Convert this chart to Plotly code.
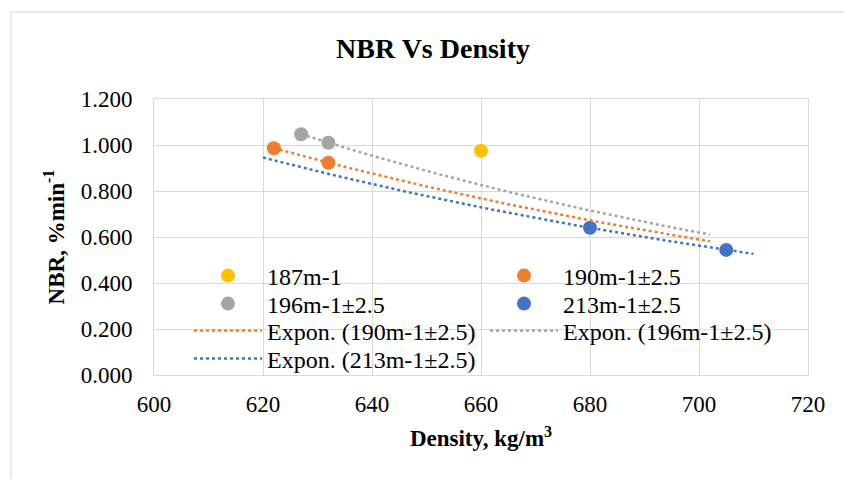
import numpy as np
import plotly.graph_objects as go

# ---- data ----
s187_x = [660]
s187_y = [0.975]
s190_x = [622, 632]
s190_y = [0.986, 0.923]
s196_x = [627, 632]
s196_y = [1.047, 1.010]
s213_x = [680, 705]
s213_y = [0.640, 0.544]

names = ["187m-1", "190m-1±2.5", "196m-1±2.5", "213m-1±2.5"]
colors = ["#FFC000", "#ED7D31", "#A5A5A5", "#4472C4"]
# trendline forecast (backward, forward) in x units, as in Excel trendline options
forecast = {"190m-1±2.5": (0, 70), "196m-1±2.5": (0, 70), "213m-1±2.5": (60, 5)}

x_ticks = [600, 620, 640, 660, 680, 700, 720]
y_ticks = [0.0, 0.2, 0.4, 0.6, 0.8, 1.0, 1.2]

FONT = "Liberation Serif, Times New Roman, serif"

# legend row assignment (two entries per row, like the Excel legend)
marker_legend = {"187m-1": "legend", "190m-1±2.5": "legend",
                 "196m-1±2.5": "legend2", "213m-1±2.5": "legend2"}
trend_legend = {"190m-1±2.5": "legend3", "196m-1±2.5": "legend3", "213m-1±2.5": "legend4"}

fig = go.Figure()
series = [(s187_x, s187_y), (s190_x, s190_y), (s196_x, s196_y), (s213_x, s213_y)]
for (xs, ys), nm, col in zip(series, names, colors):
    fig.add_trace(go.Scatter(x=xs, y=ys, mode="markers", name=nm, legend=marker_legend[nm],
                             marker=dict(color=col, size=14, line=dict(width=0))))

for (xs, ys), nm, col in zip(series, names, colors):
    if nm not in forecast:
        continue
    b, a = np.polyfit(np.array(xs, float), np.log(np.array(ys, float)), 1)
    back, fwd = forecast[nm]
    xt = np.linspace(min(xs) - back, max(xs) + fwd, 100)
    yt = np.exp(a + b * xt)
    fig.add_trace(go.Scatter(x=xt, y=yt, mode="lines", name=f"Expon. ({nm})",
                             legend=trend_legend[nm],
                             line=dict(color=col, width=2.5, dash="dot")))

L, R, T, B = 154, 36, 99, 104
W, H = 844, 479
pw, ph = W - L - R, H - T - B

def px_x(p):
    return (p - L) / pw

def px_y(p):
    return (H - B - p) / ph

fig.add_shape(type="rect", xref="paper", yref="paper",
              x0=px_x(11), x1=px_x(860), y0=px_y(495), y1=px_y(12),
              line=dict(color="#D9D9D9", width=1), fillcolor="rgba(0,0,0,0)", layer="below")

def legend_row(ypx):
    return dict(orientation="h", x=px_x(189), xanchor="left", y=px_y(ypx), yanchor="middle",
                bgcolor="rgba(0,0,0,0)", font=dict(family=FONT, size=24),
                entrywidth=213, entrywidthmode="pixels", itemwidth=68,
                traceorder="normal")

fig.update_layout(
    width=W, height=H,
    margin=dict(l=L, r=R, t=T, b=B),
    paper_bgcolor="white", plot_bgcolor="white",
    font=dict(family=FONT, size=22, color="black"),
    title=dict(text="<b>NBR Vs Density</b>", x=px_x(433), xref="paper", xanchor="center",
               y=(H - 48) / H, yanchor="middle", yref="container",
               font=dict(family=FONT, size=28, color="black")),
    xaxis=dict(range=[600, 720], tickvals=x_ticks, ticktext=[str(v) for v in x_ticks],
               showgrid=True, gridcolor="#D9D9D9", gridwidth=1, zeroline=False,
               showline=True, linecolor="#D9D9D9", mirror=True, ticks="",
               tickfont=dict(family=FONT, size=23), ticklabelstandoff=8,
               title=dict(text="<b>Density, kg/m<sup>3</sup></b>", standoff=14,
                          font=dict(family=FONT, size=23))),
    yaxis=dict(range=[0, 1.2], tickvals=y_ticks, ticktext=[f"{v:.3f}" for v in y_ticks],
               showgrid=True, gridcolor="#D9D9D9", gridwidth=1, zeroline=False,
               showline=True, linecolor="#D9D9D9", mirror=True, ticks="",
               tickfont=dict(family=FONT, size=23), ticklabelstandoff=16,
               title=dict(text="<b>NBR, %min<sup>-1</sup></b>", standoff=9,
                          font=dict(family=FONT, size=23))),
    legend=legend_row(276),
    legend2=legend_row(304),
    legend3=legend_row(331),
    legend4=legend_row(359),
    showlegend=True,
)

fig.write_html("out.html")
